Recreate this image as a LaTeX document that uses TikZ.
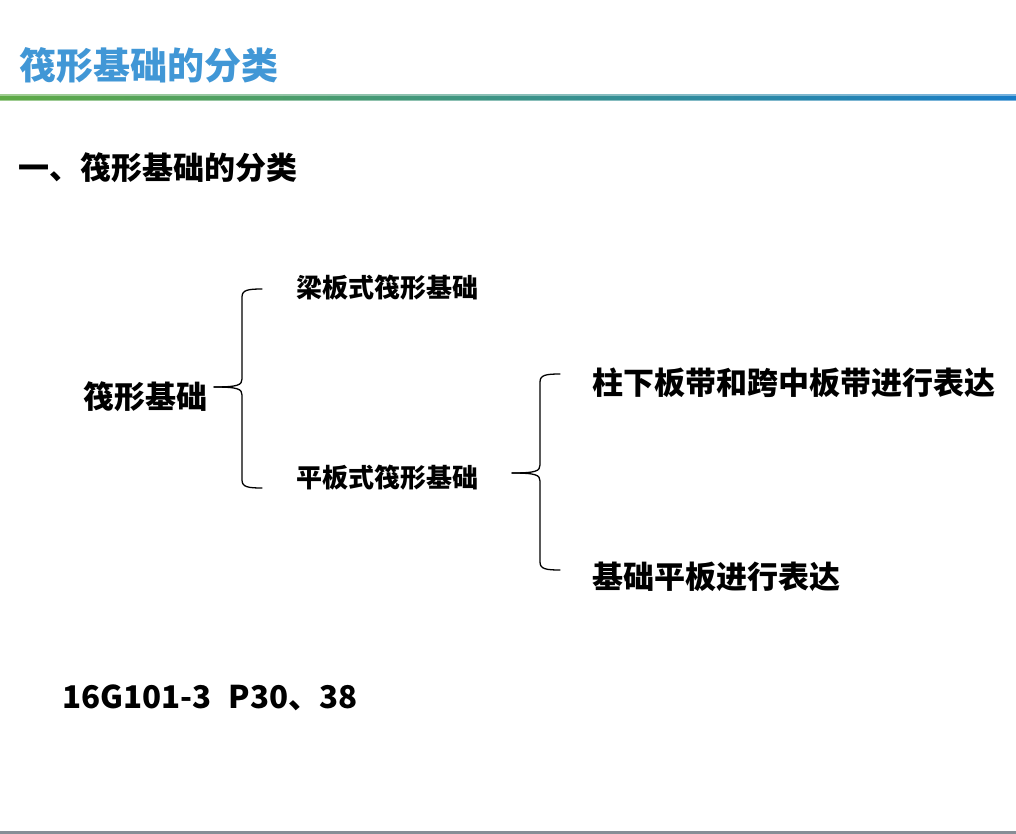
\documentclass[tikz,border=0pt]{standalone}
\usepackage{fontspec}
\setmainfont{Noto Sans CJK SC}
\definecolor{titleblue}{RGB}{65,151,214}
\definecolor{lgreen}{RGB}{95,170,70}
\definecolor{lblue}{RGB}{25,125,200}
\definecolor{footgray}{RGB}{135,142,150}
\begin{document}
\begin{tikzpicture}[x=1pt,y=-1pt,
  txt/.style={anchor=west,inner sep=0pt,font=\bfseries\fontsize{#1}{#1}\selectfont},
  brace/.style={line width=1.3pt,line cap=round,line join=round}]
\useasboundingbox[fill=white] (0,0) rectangle (1016,834);
% header
\node[txt=37,text=titleblue] (title) at (19,65) {筏形基础的分类};
\shade[left color=lgreen!60!white,right color=lblue!60!white] (0,95) rectangle (1016,101);
\shade[left color=lgreen,right color=lblue] (0,96.6) rectangle (1016,99.6);
\fill[footgray] (0,831) rectangle (1016,834);
% texts
\node[txt=31] (sec) at (18,168) {一、筏形基础的分类};
\node[txt=31] (root) at (83,397) {筏形基础};
\node[txt=26] (a) at (296,288) {梁板式筏形基础};
\node[txt=26] (b) at (296,478) {平板式筏形基础};
\node[txt=31] (b1) at (592,383) {柱下板带和跨中板带进行表达};
\node[txt=31] (b2) at (592,577) {基础平板进行表达};
\node[txt=31.3] (ref) at (62,698) {16G101-3\hspace{0.55em}P30、38};
% brace coordinates
\coordinate (t1) at (214,387);
\coordinate (u1) at (262,289);
\coordinate (d1) at (262,488);
\coordinate (t2) at (512,473);
\coordinate (u2) at (560,374);
\coordinate (d2) at (560,570);
% brace 1
\draw[brace] (u1) .. controls (248,289) and (242,290) .. (242,297)
  -- (242,379) .. controls (242,385) and (238,387) .. (t1);
\draw[brace] (t1) .. controls (238,387) and (242,389) .. (242,395)
  -- (242,480) .. controls (242,487) and (248,488) .. (d1);
% brace 2
\draw[brace] (u2) .. controls (546,374) and (540,375) .. (540,382)
  -- (540,465) .. controls (540,471) and (536,473) .. (t2);
\draw[brace] (t2) .. controls (536,473) and (540,475) .. (540,481)
  -- (540,562) .. controls (540,569) and (546,570) .. (d2);
\end{tikzpicture}
\end{document}
